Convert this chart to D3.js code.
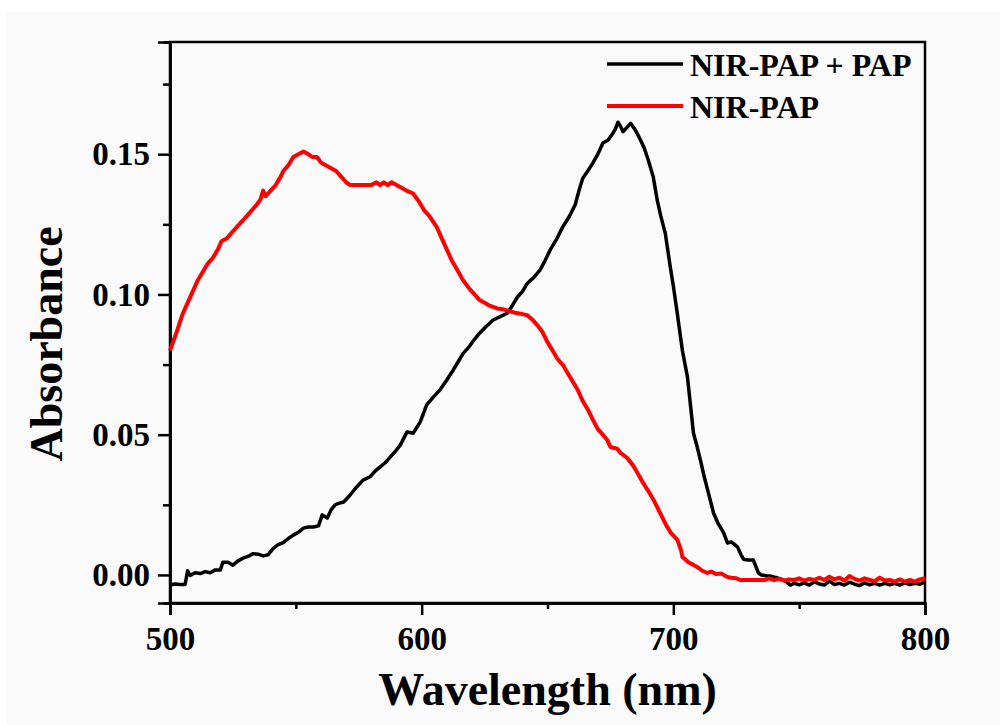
<!DOCTYPE html>
<html lang="en">
	<head>
		<meta charset="utf-8">
		<title>Absorbance spectra</title>
		<script src="https://d3js.org/d3.v7.min.js"></script>
		<style>
			body { margin: 0; background: #fff; }
			text { font-family: "Liberation Serif", "Times New Roman", serif; font-weight: bold; fill: #000; }
		</style>
	</head>
	<body>
		<script type="text/javascript">

			// ---- data ----
			var xTicks = [500, 600, 700, 800];
			var xMinor = [550, 650, 750];
			var yTicks = [0.00, 0.05, 0.10, 0.15];
			var yMinor = [0.025, 0.075, 0.125, 0.175];

			var seriesNames = ["NIR-PAP + PAP", "NIR-PAP"];
			var seriesColors = ["#000000", "#ff0000"];

			// NIR-PAP + PAP (black)
			var wlBlack = [500,502,504,506,507,508,510,512,514,516,518,520,521,523,525,527,529,531,533,535,537,539,541,543,545,547,549,551,553,555,557,559,560.5,562.5,564,565.6,567,569,571.6,574,576.7,579.5,581.5,583.5,585.5,587.5,589.5,591.5,594.2,596.6,599.4,602,604.6,607.3,610,612.5,614.5,616.5,619,621,623,625.5,628.4,631,634,636,638,640,642,644.5,647,649,651,653.8,656,658.5,661,662.5,664,666,668,670,672,674,676,677,678,679,680,681.5,683,685,687,688.5,690,692,693.6,695,696.8,698.8,700,701.6,703.6,705.6,707,708,709.5,711,712,714,716,718,720,721.5,723,725.5,727,728,730,731.8,733.8,735,737,739,741,743,745,746.5,748,750,752,754,756,758,760,762,764,766,768,770,772,774,776,778,780,782,784,786,788,790,792,794,796,798,800];
			var absBlack = [-0.0036,-0.0032,-0.0034,-0.0034,0.0015,-0.0002,0.0008,0.0005,0.0012,0.0008,0.0018,0.0018,0.0045,0.0045,0.0035,0.0050,0.0060,0.0066,0.0076,0.0074,0.0068,0.0072,0.0095,0.0108,0.0115,0.0130,0.0142,0.0152,0.0167,0.0171,0.0171,0.0175,0.0214,0.0203,0.0232,0.0250,0.0255,0.0260,0.0285,0.0312,0.0338,0.0350,0.0370,0.0385,0.0400,0.0420,0.0440,0.0463,0.0510,0.0505,0.0545,0.0606,0.0634,0.0660,0.0695,0.0730,0.0760,0.0790,0.0815,0.0840,0.0862,0.0885,0.0909,0.0920,0.0933,0.0960,0.0990,0.1010,0.1040,0.1060,0.1087,0.1120,0.1158,0.1200,0.1240,0.1275,0.1320,0.1370,0.1414,0.1440,0.1468,0.1500,0.1540,0.1550,0.1575,0.1590,0.1614,0.1600,0.1580,0.1595,0.1610,0.1585,0.1550,0.1520,0.1480,0.1420,0.1336,0.1280,0.1218,0.1097,0.1030,0.0930,0.0800,0.0706,0.0590,0.0505,0.0456,0.0400,0.0360,0.0290,0.0220,0.0180,0.0150,0.0114,0.0118,0.0100,0.0070,0.0055,0.0053,0.0053,0.0007,0.0000,-0.0003,-0.0005,-0.0010,-0.0015,-0.0025,-0.0036,-0.0030,-0.0035,-0.0028,-0.0036,-0.0025,-0.0032,-0.0036,-0.0022,-0.0034,-0.0030,-0.0036,-0.0026,-0.0033,-0.0038,-0.0028,-0.0035,-0.0030,-0.0036,-0.0030,-0.0035,-0.0030,-0.0036,-0.0028,-0.0034,-0.0030,-0.0033,-0.0025];

			// NIR-PAP (red)
			var wlRed = [500,502.8,505,507,509,511,513,515,517,519,520.5,522.6,524.5,526.5,528.5,530.6,532.5,534.5,536,537,538,540,542,544,545,547,549,551,553,555,556.5,558.4,560,562,564,566,568,570,571.6,574,577,580,582,583.5,585,586.5,588,590,592,594,596.6,599,601,603,606,608,610,612,614,616.5,619,621,623,625,627,630,632.4,635,637,640,642,644,646,648,650,652,654,656,658,660,662,664,666,668.2,670,672,673.8,675,677.7,679,681.7,684,686,688,690,692,694.8,697,699,701.6,703,703.6,706,708,710,711.5,713.5,715,717,719,721.5,723,725,726.6,730,733,736,738,740,742,744,746,748,750,752,754,756,758,760,762,764,766,768,770,772,774,776,778,780,782,784,786,788,790,792,794,796,798,800];
			var absRed = [0.080,0.087,0.093,0.097,0.101,0.105,0.108,0.111,0.113,0.116,0.119,0.120,0.122,0.124,0.126,0.128,0.130,0.132,0.134,0.137,0.135,0.137,0.139,0.142,0.144,0.146,0.149,0.150,0.151,0.150,0.149,0.149,0.147,0.146,0.145,0.144,0.142,0.140,0.139,0.139,0.139,0.139,0.140,0.139,0.140,0.139,0.140,0.139,0.138,0.137,0.136,0.133,0.130,0.128,0.124,0.120,0.116,0.112,0.109,0.105,0.102,0.100,0.098,0.097,0.096,0.095,0.0947,0.094,0.0935,0.093,0.0926,0.091,0.089,0.0866,0.083,0.080,0.077,0.075,0.072,0.069,0.066,0.062,0.059,0.055,0.052,0.050,0.048,0.0456,0.0450,0.0435,0.0417,0.039,0.036,0.0328,0.030,0.027,0.022,0.018,0.015,0.0125,0.009,0.0064,0.0045,0.0036,0.0025,0.0015,0.0007,0.0012,0.0003,0.0005,-0.0007,-0.0010,-0.0012,-0.0018,-0.0018,-0.0018,-0.0018,-0.0012,-0.0018,-0.0014,-0.0020,-0.0016,-0.0018,-0.0012,-0.0020,-0.0014,-0.0018,-0.0010,-0.0018,-0.0006,-0.0016,-0.0010,-0.0020,-0.0004,-0.0014,-0.0020,-0.0012,-0.0018,-0.0022,-0.0010,-0.0020,-0.0018,-0.0024,-0.0016,-0.0024,-0.0018,-0.0024,-0.0016,-0.0012];

			// ---- layout ----
			var w = 1000;
			var h = 725;
			var padL = 170, padR = 925, padT = 42, padB = 603;

			var svg = d3.select("body").append("svg").attr("width", w).attr("height", h);

			// paper-ish background
			svg.append("rect").attr("x", 0).attr("y", 0).attr("width", w).attr("height", h).attr("fill", "#ffffff");
			svg.append("rect").attr("x", 6).attr("y", 12).attr("width", w - 6).attr("height", h - 12).attr("fill", "#fafafa");

			// scales
			var xScale = d3.scaleLinear().domain([500, 800]).range([padL, padR]);
			var yScale = d3.scaleLinear().domain([-0.01, 0.19]).range([padB, padT]);

			// frame (top + right sides)
			svg.append("rect")
				.attr("x", padL).attr("y", padT)
				.attr("width", padR - padL).attr("height", padB - padT)
				.attr("fill", "none").attr("stroke", "#000").attr("stroke-width", 2.5);

			// axes
			var xAxis = d3.axisBottom(xScale).tickValues(xTicks).tickFormat(d3.format("d")).tickSize(12).tickPadding(12);
			var xAxisMinor = d3.axisBottom(xScale).tickValues(xMinor).tickFormat("").tickSize(6);
			var yAxis = d3.axisLeft(yScale).tickValues(yTicks).tickFormat(d3.format(".2f")).tickSize(12).tickPadding(8);
			var yAxisMinor = d3.axisLeft(yScale).tickValues(yMinor).tickFormat("").tickSize(7);

			function styleAxis(g) {
				g.select(".domain").attr("stroke", "#000").attr("stroke-width", 2.5);
				g.selectAll(".tick line").attr("stroke", "#000").attr("stroke-width", 2.5);
				g.selectAll(".tick text")
					.style("font-family", "'Liberation Serif', 'Times New Roman', serif")
					.style("font-weight", "bold")
					.style("font-size", "33px")
					.attr("fill", "#000");
			}

			svg.append("g").attr("transform", "translate(0," + padB + ")").call(xAxisMinor).call(styleAxis);
			svg.append("g").attr("transform", "translate(0," + padB + ")").call(xAxis).call(styleAxis);
			svg.append("g").attr("transform", "translate(" + padL + ",0)").call(yAxisMinor).call(styleAxis);
			svg.append("g").attr("transform", "translate(" + padL + ",0)").call(yAxis).call(styleAxis);

			// axis titles
			svg.append("text")
				.attr("x", (padL + padR) / 2)
				.attr("y", 705)
				.attr("text-anchor", "middle")
				.style("font-size", "46px")
				.text("Wavelength (nm)");

			svg.append("text")
				.attr("transform", "translate(62,344) rotate(-90)")
				.attr("text-anchor", "middle")
				.style("font-size", "46px")
				.text("Absorbance");

			// curves
			var line = d3.line()
				.x(function(d) { return xScale(d[0]); })
				.y(function(d) { return yScale(d[1]); });

			var blackData = d3.zip(wlBlack, absBlack);
			var redData = d3.zip(wlRed, absRed);

			svg.append("path").datum(blackData)
				.attr("d", line).attr("fill", "none")
				.attr("stroke", seriesColors[0]).attr("stroke-width", 3.5)
				.attr("stroke-linejoin", "round");

			svg.append("path").datum(redData)
				.attr("d", line).attr("fill", "none")
				.attr("stroke", seriesColors[1]).attr("stroke-width", 4)
				.attr("stroke-linejoin", "round");

			// legend
			var legend = svg.append("g");
			seriesNames.forEach(function(name, i) {
				var ly = 64 + i * 42;
				legend.append("line")
					.attr("x1", 607).attr("x2", 683)
					.attr("y1", ly).attr("y2", ly)
					.attr("stroke", seriesColors[i]).attr("stroke-width", i === 0 ? 3.5 : 4);
				legend.append("text")
					.attr("x", 690).attr("y", ly + 12)
					.style("font-size", "32px")
					.text(name);
			});

		</script>
	</body>
</html>
